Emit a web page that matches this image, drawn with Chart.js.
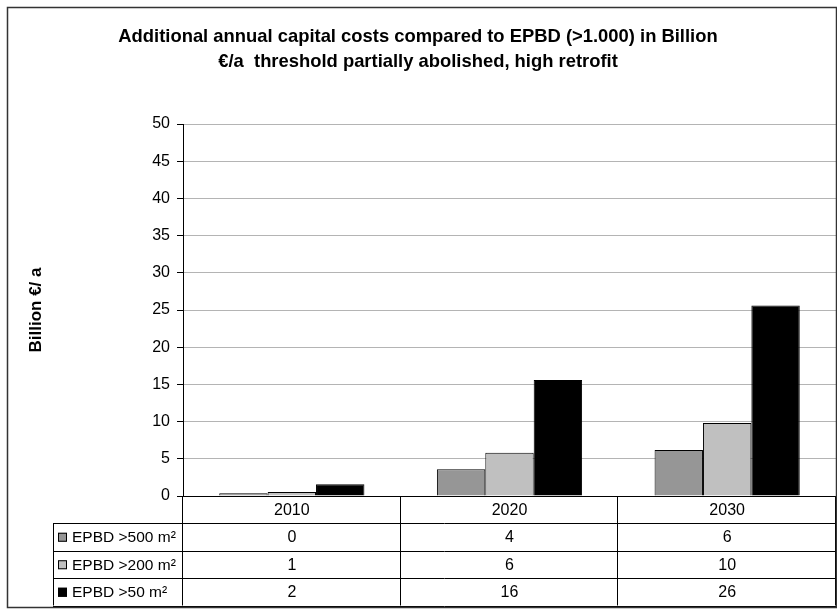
<!DOCTYPE html>
<html>
<head>
<meta charset="utf-8">
<script src="https://cdn.jsdelivr.net/npm/chart.js@4"></script>
<style>
    body { margin: 0; background: #fff; }
    canvas { display: block; }
</style>
</head>
<body>
<canvas id="costChart" width="837" height="612"></canvas>
<script>
// Chart data
const categories = ['2010', '2020', '2030'];
const seriesNames = ['EPBD >500 m²', 'EPBD >200 m²', 'EPBD >50 m²'];
const epbd500 = [0.36, 3.6, 6.2];
const epbd200 = [0.55, 5.8, 9.8];
const epbd50 = [1.57, 15.6, 25.6];
const yMin = 0, yMax = 50, yStep = 5;

const colors = ['#969696', '#c0c0c0', '#000000'];
const FONT = "'Liberation Sans', Arial, sans-serif";

// data table + outer frame drawn under the plot
const tablePlugin = {
    id: 'dataTable',
    afterDraw(chart) {
        const ctx = chart.ctx;
        const area = chart.chartArea;
        const colW = (area.right - area.left) / categories.length;
        const headerH = 27, rowH = 27.5, tableLeft = 53;
        const top = area.bottom;
        const allSeries = [epbd500, epbd200, epbd50];
        const bottom = top + headerH + rowH * allSeries.length;

        ctx.save();
        ctx.strokeStyle = '#000';
        ctx.lineWidth = 1;
        ctx.beginPath();
        // vertical column lines
        for (let i = 0; i <= categories.length; i++) {
            const x = Math.round(area.left + i * colW) - 0.5;
            ctx.moveTo(x, top);
            ctx.lineTo(x, bottom);
        }
        ctx.moveTo(tableLeft + 0.5, top + headerH);
        ctx.lineTo(tableLeft + 0.5, bottom);
        // horizontal row lines
        for (let r = 0; r <= allSeries.length; r++) {
            const y = Math.round(top + headerH + r * rowH) + 0.5;
            ctx.moveTo(tableLeft, y);
            ctx.lineTo(area.right, y);
        }
        ctx.stroke();

        ctx.fillStyle = '#000';
        ctx.font = '16px ' + FONT;
        ctx.textAlign = 'center';
        ctx.textBaseline = 'middle';
        categories.forEach((c, i) => {
            ctx.fillText(c, area.left + (i + 0.5) * colW, top + headerH / 2 + 1);
        });
        allSeries.forEach((vals, r) => {
            const cy = top + headerH + (r + 0.5) * rowH + 1;
            vals.forEach((v, i) => {
                ctx.fillStyle = '#000';
                ctx.fillText(String(Math.round(v)), area.left + (i + 0.5) * colW, cy);
            });
            // legend key
            ctx.fillStyle = colors[r];
            ctx.fillRect(tableLeft + 5, cy - 5, 9, 9);
            ctx.strokeRect(tableLeft + 5.5, cy - 4.5, 8, 8);
            ctx.fillStyle = '#000';
            ctx.textAlign = 'left';
            ctx.font = '15.5px ' + FONT;
            ctx.fillText(seriesNames[r], tableLeft + 19, cy);
            ctx.font = '16px ' + FONT;
            ctx.textAlign = 'center';
        });

        // chart frame
        ctx.strokeStyle = '#333';
        ctx.lineWidth = 1.5;
        ctx.strokeRect(7.5, 7.5, 829, 600);
        ctx.restore();
    }
};

const ctx = document.getElementById('costChart').getContext('2d');
new Chart(ctx, {
    type: 'bar',
    data: {
        labels: categories,
        datasets: [epbd500, epbd200, epbd50].map((vals, i) => ({
            label: seriesNames[i],
            data: vals,
            backgroundColor: colors[i],
            borderColor: '#000',
            borderWidth: 1,
            barPercentage: 1,
            categoryPercentage: 0.667
        }))
    },
    plugins: [tablePlugin],
    options: {
        responsive: false,
        animation: false,
        devicePixelRatio: 1,
        layout: { padding: { top: 0, left: 0, right: 1, bottom: 0 } },
        plugins: {
            legend: { display: false },
            tooltip: { enabled: false },
            title: {
                display: true,
                text: ['Additional annual capital costs compared to EPBD (>1.000) in Billion',
                       '€/a  threshold partially abolished, high retrofit'],
                color: '#000',
                font: { family: FONT, size: 18.4, weight: 'bold', lineHeight: 1.36 },
                padding: { top: 24.5, bottom: 49.5 }
            }
        },
        scales: {
            x: {
                grid: { display: false },
                ticks: { display: false },
                border: { color: '#000', width: 1 },
                afterFit(scale) { scale.height = 116; }
            },
            y: {
                min: yMin,
                max: yMax,
                ticks: {
                    stepSize: yStep,
                    color: '#000',
                    padding: 7,
                    font: { family: FONT, size: 16 }
                },
                grid: { color: '#b4b4b4', tickColor: '#000', tickLength: 6 },
                border: { color: '#000', width: 1 },
                title: {
                    display: true,
                    text: 'Billion €/ a',
                    color: '#000',
                    font: { family: FONT, size: 17, weight: 'bold' },
                    padding: { top: 26 }
                },
                afterFit(scale) { scale.width = 183; }
            }
        }
    }
});
</script>
</body>
</html>
